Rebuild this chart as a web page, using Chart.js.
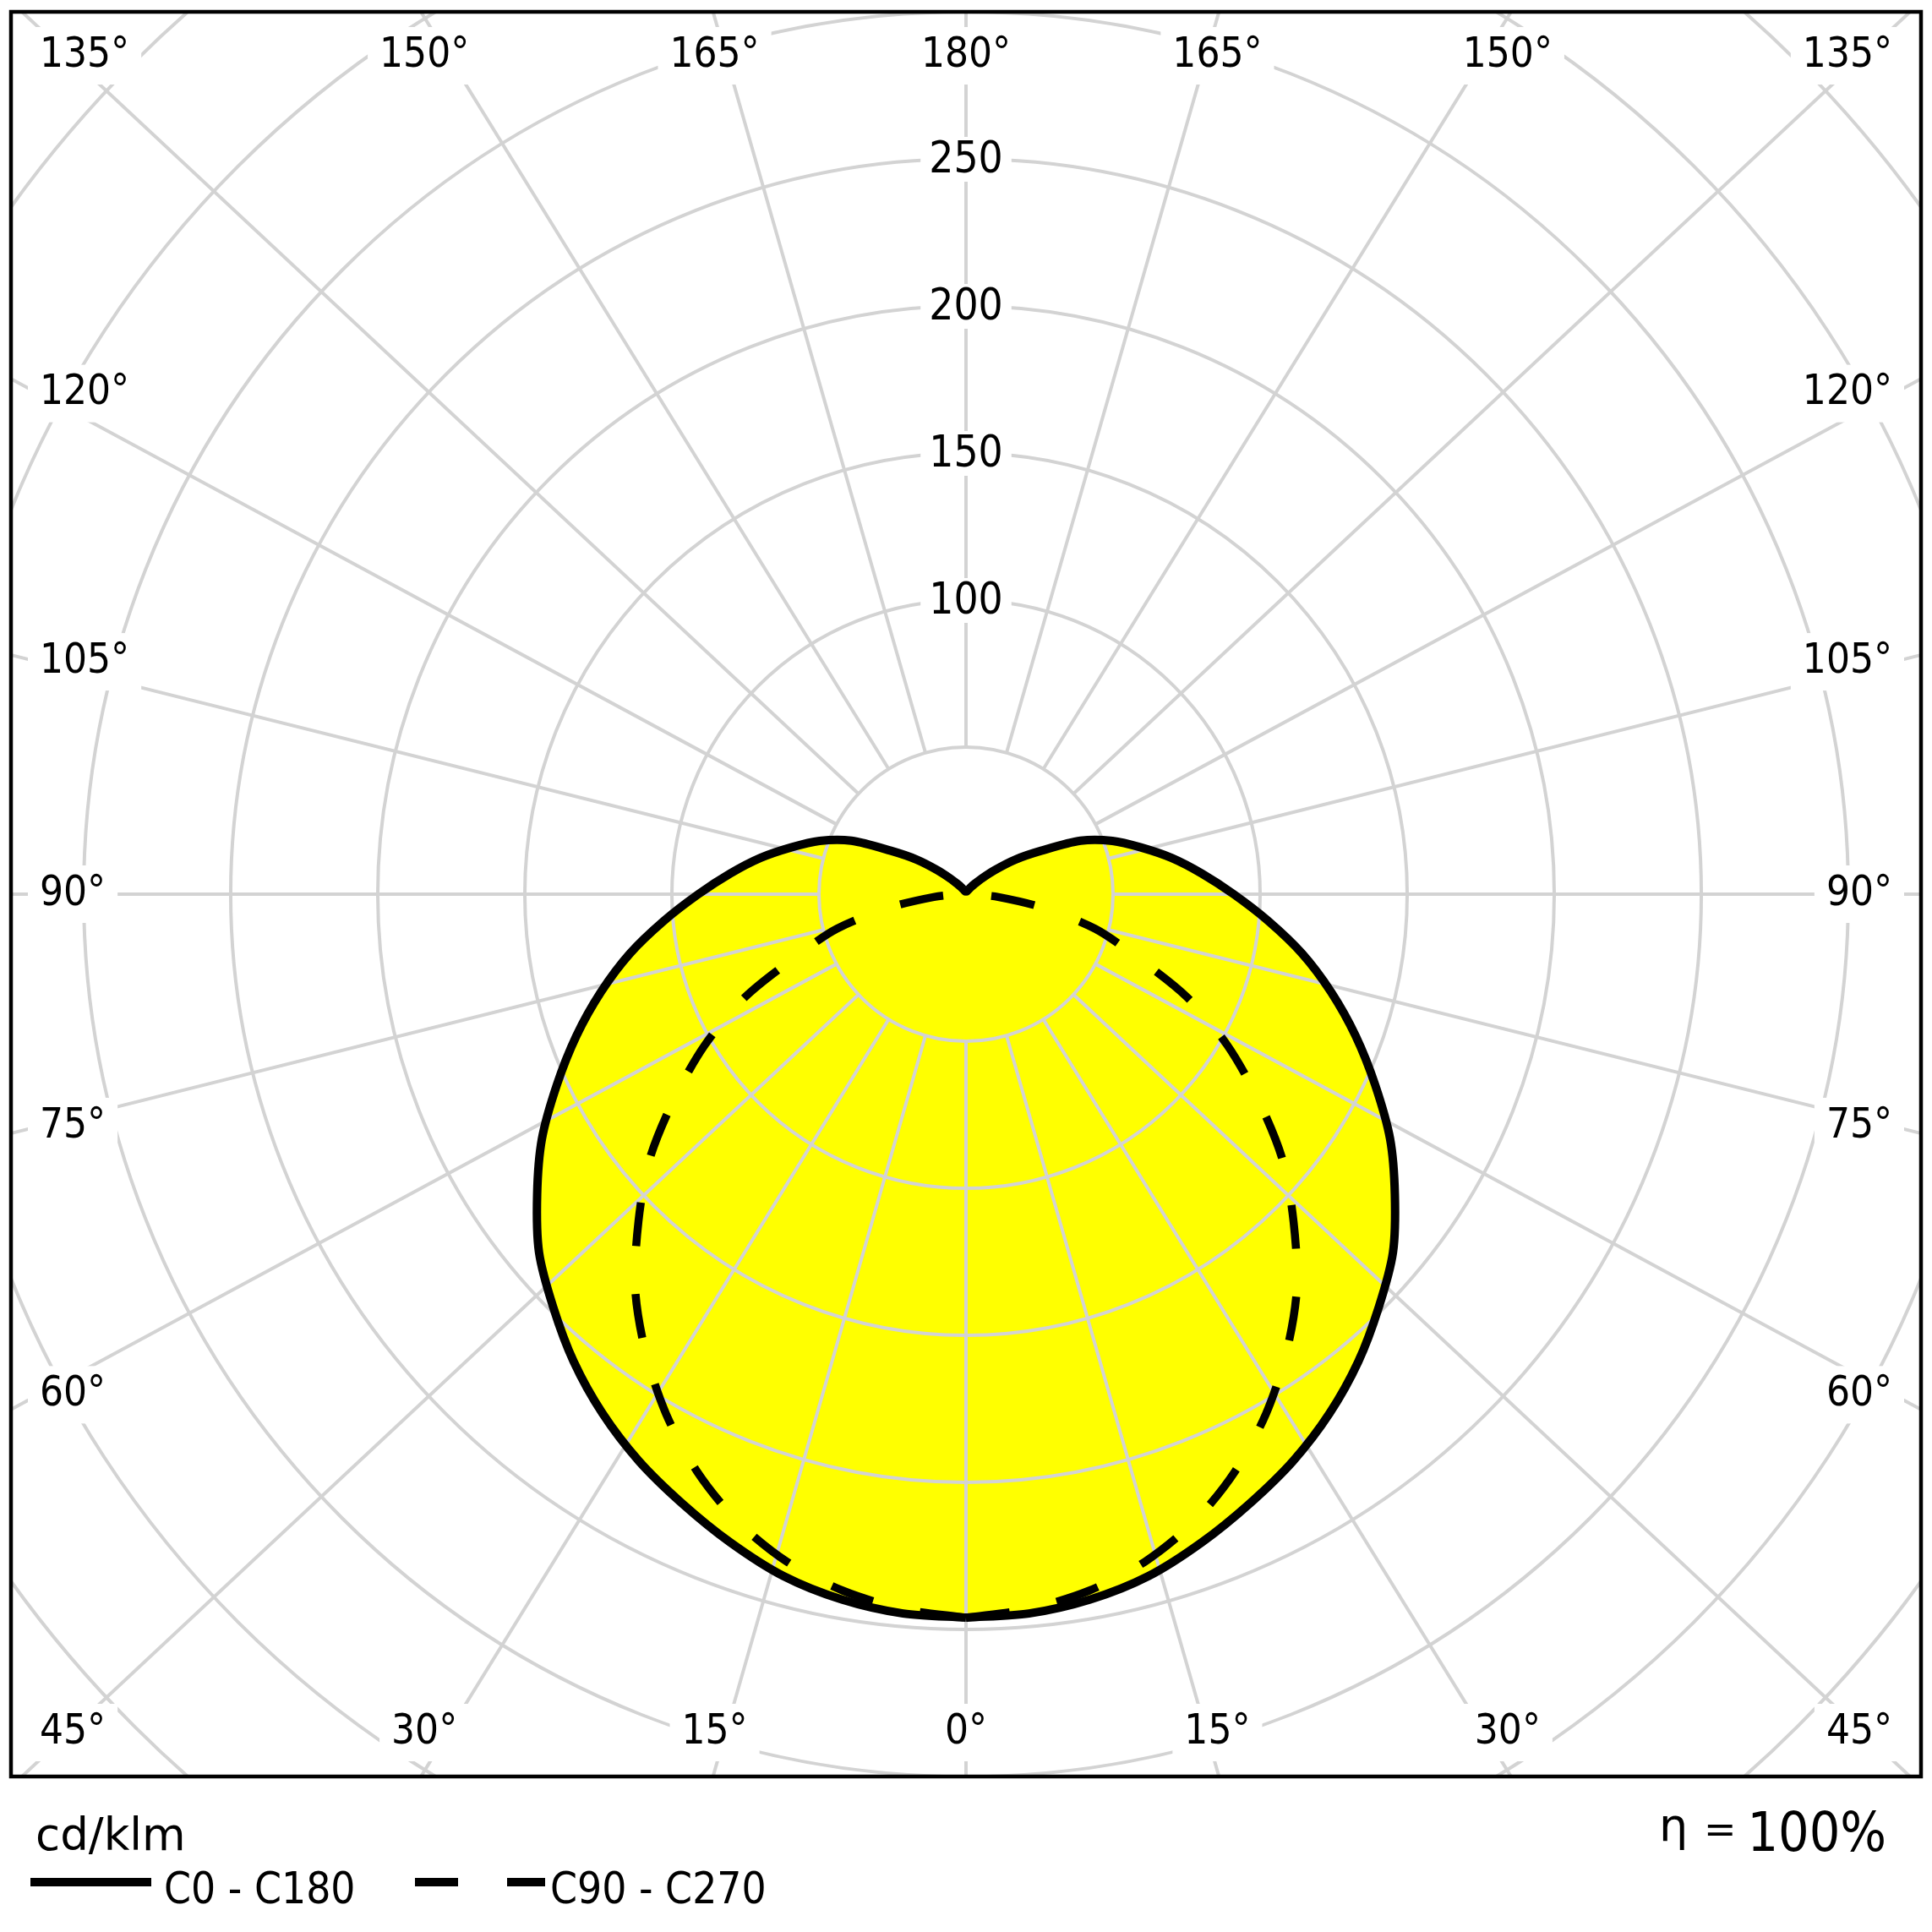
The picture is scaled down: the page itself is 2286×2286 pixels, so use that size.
<!DOCTYPE html>
<html>
<head>
<meta charset="utf-8">
<script src="https://cdn.jsdelivr.net/npm/chart.js@4.4.1/dist/chart.umd.min.js"></script>
<style>
  html, body { margin: 0; padding: 0; background: #fff; }
</style>
</head>
<body>
<canvas id="polar" width="2286" height="2286"></canvas>
<script>
// gamma angles measured from nadir (0 = straight down), one half plane
var gammaAngles = [0, 5, 10, 15, 20, 25, 30, 35, 40, 45, 50, 55, 60, 65, 70, 75, 80, 85, 90,
  95, 100, 105, 110, 115, 120, 125, 130, 135, 140, 145, 150, 155, 160, 165, 170, 175, 180];

// luminous intensity in cd/klm, both half planes read the same
var c0c180 = [246, 245.5, 243.5, 240, 234.5, 228.5, 222.5, 215.5, 207.5, 198.5, 189.5, 178, 166.5,
  153.5, 141, 128.5, 116, 103, 91, 80.5, 71, 61.5, 53, 43, 29.5, 20.5, 12.7, 7.5, 4.5, 3, 2,
  1.5, 1.2, 1, 1, 1, 1];
var c90c270 = [246, 244, 240.5, 235, 227, 216.5, 204, 190, 175, 157.5, 140.5, 121, 102.5, 83, 61,
  45.5, 26.5, 11, 2, 0, 0, 0, 0, 0, 0, 0, 0, 0, 0, 0, 0, 0, 0, 0, 0, 0, 0];

// grid rings and their printed labels
var ringValues = [50, 100, 150, 200, 250, 300, 350, 400];
var ringLabels = [100, 150, 200, 250];
// angle labels, every 15 degrees
var angleLabels = [0, 15, 30, 45, 60, 75, 90, 105, 120, 135, 150, 165, 180];

var unitLabel = 'cd/klm';
var efficiency = '100%';

// spokes in the original are slightly stretched sideways
var spokeStretch = 1.07;

// turn one half plane into x/y points, side = 1 right, -1 left
function halfPlane(values, side) {
  return gammaAngles.map(function(g, i) {
    var rad = g * Math.PI / 180;
    return { x: side * values[i] * Math.sin(rad), y: -values[i] * Math.cos(rad) };
  });
}
// right half from 0 to 180, then left half back to 0
function closedCurve(values) {
  return halfPlane(values, 1).concat(halfPlane(values, -1).reverse());
}

var condensed = '"DejaVu Sans Condensed", "Liberation Sans Narrow", "DejaVu Sans", sans-serif';

function labelBox(ctx, text, x, y, align, padX, h) {
  var w = ctx.measureText(text).width;
  var left = align === 'left' ? x : (align === 'right' ? x - w : x - w / 2);
  ctx.fillStyle = '#fff';
  ctx.fillRect(left - padX, y - h / 2, w + 2 * padX, h);
  ctx.fillStyle = '#000';
  ctx.textAlign = align;
  ctx.fillText(text, x, y);
}

var polarGrid = {
  id: 'polarGrid',
  // grid goes over the yellow fill but under the curves
  afterDatasetDraw: function(chart, args) {
    if (args.index !== 0) return;
    var ctx = chart.ctx, a = chart.chartArea;
    var xs = chart.scales.x, ys = chart.scales.y;
    var cx = xs.getPixelForValue(0), cy = ys.getPixelForValue(0);
    var unit = xs.getPixelForValue(1) - cx;

    ctx.save();
    ctx.beginPath();
    ctx.rect(a.left, a.top, a.right - a.left, a.bottom - a.top);
    ctx.clip();
    ctx.strokeStyle = '#d3d3d3';
    ctx.lineWidth = 4;
    ringValues.forEach(function(v) {
      ctx.beginPath();
      ctx.arc(cx, cy, v * unit, 0, Math.PI * 2);
      ctx.stroke();
    });
    var r0 = ringValues[0] * unit;
    for (var g = 0; g < 360; g += 15) {
      var rad = g * Math.PI / 180;
      var dx = spokeStretch * Math.sin(rad), dy = Math.cos(rad);
      var len = Math.sqrt(dx * dx + dy * dy);
      dx /= len; dy /= len;
      ctx.beginPath();
      ctx.moveTo(cx + dx * r0, cy + dy * r0);
      ctx.lineTo(cx + dx * 3000, cy + dy * 3000);
      ctx.stroke();
    }

    // ring values up the 180 spoke
    ctx.font = '51px ' + condensed;
    ctx.textBaseline = 'middle';
    ringLabels.forEach(function(v) {
      var y = ys.getPixelForValue(v);
      var w = ctx.measureText(String(v)).width;
      ctx.fillStyle = '#fff';
      ctx.fillRect(cx - w / 2 - 10, y - 26, w + 20, 53);
      ctx.fillStyle = '#000';
      ctx.textAlign = 'center';
      ctx.fillText(String(v), cx, y + 3);
    });

    // angle labels round the frame
    ctx.font = '49px ' + condensed;
    var topY = a.top + 52, botY = a.bottom - 52;
    var leftX = a.left + 34, rightX = a.right - 34;
    angleLabels.forEach(function(g) {
      var text = g + '°';
      [-1, 1].forEach(function(side) {
        if ((g === 0 || g === 180) && side === 1) return;
        var edgeAlign = side < 0 ? 'left' : 'right';
        var edgeX = side < 0 ? leftX : rightX;
        if (g < 45) {
          labelBox(ctx, text, cx + side * 1110 * Math.tan(g * Math.PI / 180), botY, 'center', 14, 68);
        } else if (g === 45) {
          labelBox(ctx, text, edgeX, botY, edgeAlign, 14, 68);
        } else if (g < 135) {
          var yy = cy + 1026 * Math.tan((90 - g) * Math.PI / 180);
          labelBox(ctx, text, edgeX, yy, edgeAlign, 14, 68);
        } else if (g === 135) {
          labelBox(ctx, text, edgeX, topY, edgeAlign, 14, 68);
        } else {
          labelBox(ctx, text, cx + side * 1110 * Math.tan((180 - g) * Math.PI / 180), topY, 'center', 14, 68);
        }
      });
    });
    ctx.restore();
  },
  afterDraw: function(chart) {
    var ctx = chart.ctx, a = chart.chartArea;
    ctx.save();
    ctx.strokeStyle = '#000';
    ctx.lineWidth = 4.5;
    ctx.strokeRect(a.left, a.top, a.right - a.left, a.bottom - a.top);

    // legend under the frame
    var ds = chart.data.datasets;
    ctx.fillStyle = '#000';
    ctx.textBaseline = 'alphabetic';
    ctx.textAlign = 'left';
    ctx.font = '53px "DejaVu Sans", sans-serif';
    ctx.fillText(unitLabel, 42, 2189);

    ctx.lineWidth = 10;
    ctx.beginPath();
    ctx.moveTo(36, 2227);
    ctx.lineTo(179, 2227);
    ctx.stroke();
    ctx.font = '51px ' + condensed;
    ctx.fillText(ds[2].label, 194, 2252);

    ctx.setLineDash([51, 58]);
    ctx.beginPath();
    ctx.moveTo(491, 2227);
    ctx.lineTo(645, 2227);
    ctx.stroke();
    ctx.setLineDash([]);
    ctx.fillText(ds[1].label, 651, 2252);

    ctx.font = '54px "DejaVu Sans", sans-serif';
    ctx.fillText('η', 1963, 2178);
    ctx.font = '46px "DejaVu Sans", sans-serif';
    ctx.fillText('=', 2016, 2180);
    ctx.textAlign = 'right';
    ctx.font = '64px ' + condensed;
    ctx.fillText(efficiency, 2232, 2190);
    ctx.restore();
  }
};

var ctx = document.getElementById('polar').getContext('2d');
var chart = new Chart(ctx, {
  type: 'scatter',
  data: {
    datasets: [{
      label: 'fill',
      data: closedCurve(c0c180),
      showLine: true,
      fill: 'shape',
      backgroundColor: '#ffff00',
      borderWidth: 0,
      pointRadius: 0,
      order: 3
    }, {
      label: 'C90 - C270',
      data: closedCurve(c90c270),
      showLine: true,
      fill: false,
      borderColor: '#000',
      borderWidth: 9.5,
      borderDash: [52, 57],
      pointRadius: 0,
      order: 2
    }, {
      label: 'C0 - C180',
      data: closedCurve(c0c180),
      showLine: true,
      fill: false,
      borderColor: '#000',
      borderWidth: 10,
      pointRadius: 0,
      order: 1
    }]
  },
  options: {
    responsive: false,
    animation: false,
    devicePixelRatio: 1,
    layout: { padding: { left: 13, right: 13, top: 14, bottom: 184 } },
    elements: { line: { tension: 0.3, borderJoinStyle: 'round' } },
    scales: {
      x: { type: 'linear', min: -324.7, max: 324.7, display: false },
      y: { type: 'linear', min: -300, max: 300, display: false }
    },
    plugins: {
      legend: { display: false },
      tooltip: { enabled: false }
    }
  },
  plugins: [polarGrid]
});
</script>
</body>
</html>
